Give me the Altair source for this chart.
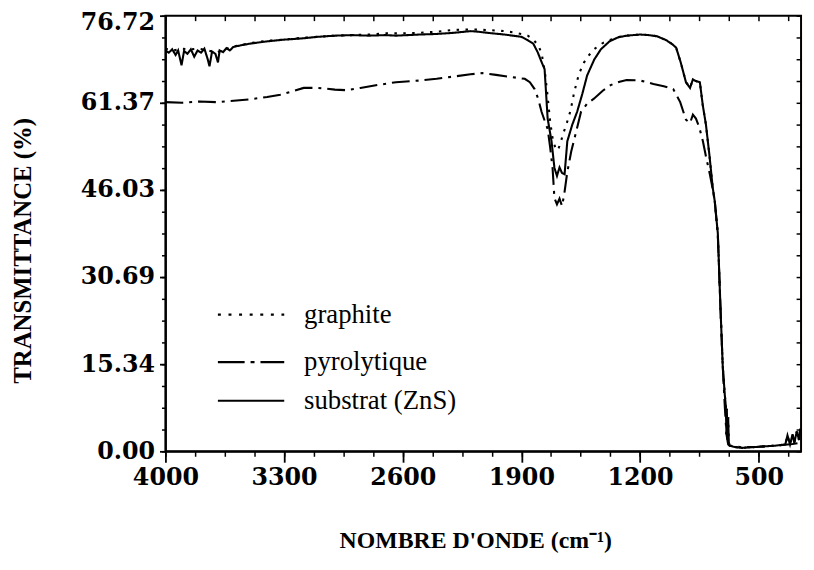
import altair as alt
import pandas as pd

# ---- data ----
names = ["graphite", "pyrolytique", "substrat (ZnS)"]

wn_sub = [4000, 3980, 3960, 3940, 3925, 3905, 3890, 3870, 3850, 3830, 3810, 3790, 3770, 3750, 3740, 3725,
          3705, 3690, 3680, 3660, 3640, 3620, 3600, 3556, 3500, 3400, 3300, 3200, 3100, 3000, 2900, 2800,
          2700, 2640, 2500, 2400, 2300, 2200, 2155, 2100, 2000, 1900, 1862, 1830, 1804, 1780, 1763, 1745,
          1722, 1705, 1690, 1675, 1660, 1645, 1629, 1600, 1571, 1540, 1512, 1470, 1431, 1380, 1330, 1279,
          1200, 1150, 1100, 1045, 1010, 987, 960, 929, 905, 888, 870, 847, 830, 811, 790, 771, 759, 741,
          725, 712, 700, 694, 690, 688, 684, 680, 676, 671, 650, 600, 500, 450, 400, 343, 330, 315, 300,
          290, 275, 262, 255]
t_sub = [70.6, 70.2, 70.8, 69.8, 70.6, 68.0, 70.5, 70.0, 70.8, 69.5, 70.6, 70.2, 70.9, 69.0, 67.8, 70.4,
         70.0, 68.5, 70.6, 70.3, 71.0, 70.6, 71.2, 71.5, 71.8, 72.2, 72.5, 72.7, 73.0, 73.2, 73.3, 73.2,
         73.3, 73.2, 73.4, 73.5, 73.7, 74.0, 73.9, 73.7, 73.4, 73.0, 72.4, 71.8, 70.3, 68.5, 67.3, 58.6,
         54.6, 49.9, 48.5, 50.0, 49.0, 48.8, 54.6, 57.5, 59.8, 63.0, 66.2, 69.0, 70.8, 72.2, 72.9, 73.2,
         73.4, 73.3, 73.1, 72.4, 71.7, 71.1, 68.5, 65.0, 64.0, 65.5, 65.2, 65.0, 61.0, 57.5, 52.0, 46.4,
         44.0, 38.4, 25.0, 15.0, 10.0, 8.0, 3.0, 7.5, 2.0, 6.0, 1.5, 1.0, 0.8, 0.6, 0.8, 0.9, 1.0, 1.2,
         2.8, 1.2, 3.0, 1.5, 3.5, 2.0, 4.0]

wn_gra = [4000, 3950, 3900, 3850, 3800, 3750, 3700, 3650, 3600, 3500, 3400, 3300, 3200, 3100, 3000, 2900,
          2800, 2700, 2600, 2500, 2400, 2300, 2200, 2100, 2000, 1950, 1900, 1862, 1830, 1800, 1780, 1760,
          1745, 1730, 1715, 1700, 1685, 1670, 1655, 1635, 1610, 1588, 1560, 1530, 1500, 1472, 1420, 1373,
          1320, 1279]
t_gra = [70.9, 70.6, 70.9, 70.8, 70.9, 70.6, 70.2, 70.8, 71.3, 71.9, 72.3, 72.5, 72.8, 73.0, 73.2, 73.3,
         73.4, 73.6, 73.6, 73.7, 73.9, 74.2, 74.3, 74.2, 74.0, 73.8, 73.5, 73.2, 72.5, 71.5, 70.0, 66.5,
         62.5, 58.0, 55.0, 53.5, 53.0, 54.2, 55.8, 57.5, 60.0, 63.3, 66.5, 68.5, 69.8, 70.8, 71.9, 72.5,
         73.0, 73.2]

wn_pyr = [4000, 3900, 3800, 3700, 3615, 3500, 3400, 3322, 3250, 3184, 3100, 3000, 2931, 2850, 2750, 2640,
          2500, 2400, 2300, 2200, 2131, 2050, 1956, 1880, 1850, 1822, 1800, 1781, 1760, 1745, 1730, 1716,
          1705, 1690, 1675, 1660, 1647, 1630, 1606, 1575, 1548, 1510, 1472, 1420, 1373, 1320, 1279, 1200,
          1121, 1060, 1004, 963, 929, 905, 888, 870, 850, 829, 808, 788, 770, 759, 741, 725, 712, 700,
          690, 680, 671, 600, 500, 400, 300, 255]
t_pyr = [61.5, 61.4, 61.6, 61.5, 61.7, 62.0, 62.4, 62.8, 63.4, 64.0, 64.0, 63.7, 63.6, 64.0, 64.5, 65.0,
         65.3, 65.6, 66.0, 66.4, 66.6, 66.3, 65.9, 65.6, 65.0, 63.8, 62.0, 59.8, 58.0, 56.8, 53.5, 49.9,
         44.6, 43.5, 44.5, 43.2, 45.3, 49.0, 52.8, 56.5, 59.8, 61.3, 62.1, 63.5, 64.5, 65.1, 65.4, 65.3,
         64.7, 64.3, 63.8, 61.5, 58.4, 57.8, 59.3, 58.6, 57.0, 54.6, 51.5, 48.8, 46.0, 44.1, 38.0, 25.0,
         15.0, 8.0, 3.0, 1.2, 1.0, 0.7, 0.8, 1.0, 1.3, 1.5]

x_major = [4000, 3300, 2600, 1900, 1200, 500]
y_major = [0.00, 15.34, 30.69, 46.03, 61.37, 76.72]
x_minor = [4000 - 175 * k for k in range(22)]
y_minor = [round(76.72 * k / 20, 3) for k in range(21)]

# ---- build long table ----
rows = []
gra_full_wn = wn_gra + [w for w in wn_sub if w < 1279]
gra_full_t = t_gra + [t for w, t in zip(wn_sub, t_sub) if w < 1279]
for name, wn, tt in [(names[0], gra_full_wn, gra_full_t),
                     (names[1], wn_pyr, t_pyr),
                     (names[2], wn_sub, t_sub)]:
    for i, (w, t) in enumerate(zip(wn, tt)):
        rows.append({"serie": name, "wn": w, "T": t, "i": i})
df = pd.DataFrame(rows)

dashes = [[2.5, 6.5], [18, 6, 3, 6], [1, 0]]
legend_dashes = [[3, 7.7], [27, 6, 4, 6], [1, 0]]
widths = [2.4, 2.3, 2.0]

xscale = alt.Scale(domain=[250, 4000], reverse=True, nice=False, zero=False)
yscale = alt.Scale(domain=[0, 76.72], nice=False, zero=True)

label_font = "DejaVu Serif"
title_font = "Liberation Serif"

base = alt.Chart(df)

main = base.mark_line(color="black", strokeWidth=2.1).encode(
    x=alt.X("wn:Q", scale=xscale, axis=alt.Axis(
        orient="bottom", values=x_major, format="d", grid=False,
        tickSize=11, tickWidth=1.8, tickColor="black",
        domain=True, domainColor="black", domainWidth=2,
        labelFont=label_font, labelFontWeight="bold", labelFontSize=24, labelColor="black",
        labelPadding=4, labelFlush=False,
        title="NOMBRE D'ONDE (cm⁻¹)", titleFont=title_font, titleFontWeight="bold",
        titleFontSize=24, titleColor="black", titleX=313, titleY=90,
        titleAlign="center", titleBaseline="middle")),
    y=alt.Y("T:Q", scale=yscale, axis=alt.Axis(
        orient="left", values=y_major, format=".2f", grid=False,
        tickSize=6, tickWidth=1.8, tickColor="black",
        domain=True, domainColor="black", domainWidth=2,
        labelFont=label_font, labelFontWeight="bold", labelFontSize=24, labelColor="black",
        labelPadding=5, labelFlush=False,
        labelOffset={"condition": {"test": "datum.value > 76", "value": 7}, "value": 0},
        title="TRANSMITTANCE (%)", titleFont=title_font, titleFontWeight="bold",
        titleFontSize=25, titleColor="black", titleX=-144, titleY=237, titleAngle=270,
        titleAlign="center", titleBaseline="middle")),
    strokeDash=alt.StrokeDash("serie:N", scale=alt.Scale(domain=names, range=dashes), legend=None),
    detail="serie:N",
    order="i:Q",
)

minor = base.mark_line(opacity=0).encode(
    x=alt.X("wn:Q", scale=xscale, axis=alt.Axis(
        orient="bottom", values=x_minor, labels=False, domain=False, grid=False,
        tickSize=5, tickWidth=1.5, tickColor="black", title=None)),
    y=alt.Y("T:Q", scale=yscale, axis=alt.Axis(
        orient="left", values=y_minor, labels=False, domain=False, grid=False,
        tickSize=4, tickWidth=1.5, tickColor="black", title=None)),
    detail="serie:N",
)

frame = base.mark_line(opacity=0).encode(
    x=alt.X("wn:Q", scale=xscale, axis=alt.Axis(
        orient="bottom", offset=-440, values=x_minor, labels=False, domain=False, grid=False,
        tickSize=5, tickWidth=1.5, tickColor="black", title=None)),
    y=alt.Y("T:Q", scale=yscale, axis=alt.Axis(
        orient="left", offset=-642, values=y_minor, labels=False, domain=False, grid=False,
        tickSize=5, tickWidth=1.5, tickColor="black", title=None)),
    detail="serie:N",
)

# ---- hand-drawn legend (as in the reference) ----
leg_y = [302, 350, 389]
one = alt.Data(values=[{"k": 0}])
legend_layers = []
for name, dash, w, yy in zip(names, legend_dashes, widths, leg_y):
    legend_layers.append(
        alt.Chart(one).mark_rule(color="black", strokeWidth=w, strokeDash=dash).encode(
            x=alt.value(53), x2=alt.value(120), y=alt.value(yy)))
    legend_layers.append(
        alt.Chart(one).mark_text(align="left", baseline="middle", font=title_font,
                                 fontSize=27, color="black").encode(
            x=alt.value(140), y=alt.value(yy), text=alt.value(name)))

chart = alt.layer(main, minor, frame, *legend_layers).resolve_axis(
    x="independent", y="independent"
).properties(
    width=642, height=440,
    padding={"left": 159, "top": 5, "right": 5, "bottom": 105},
    autosize=alt.AutoSizeParams(type="none"),
    background="white",
).configure_view(stroke="black", strokeWidth=2)

chart.save("out.html", embed_options={"renderer": "svg", "actions": False})
